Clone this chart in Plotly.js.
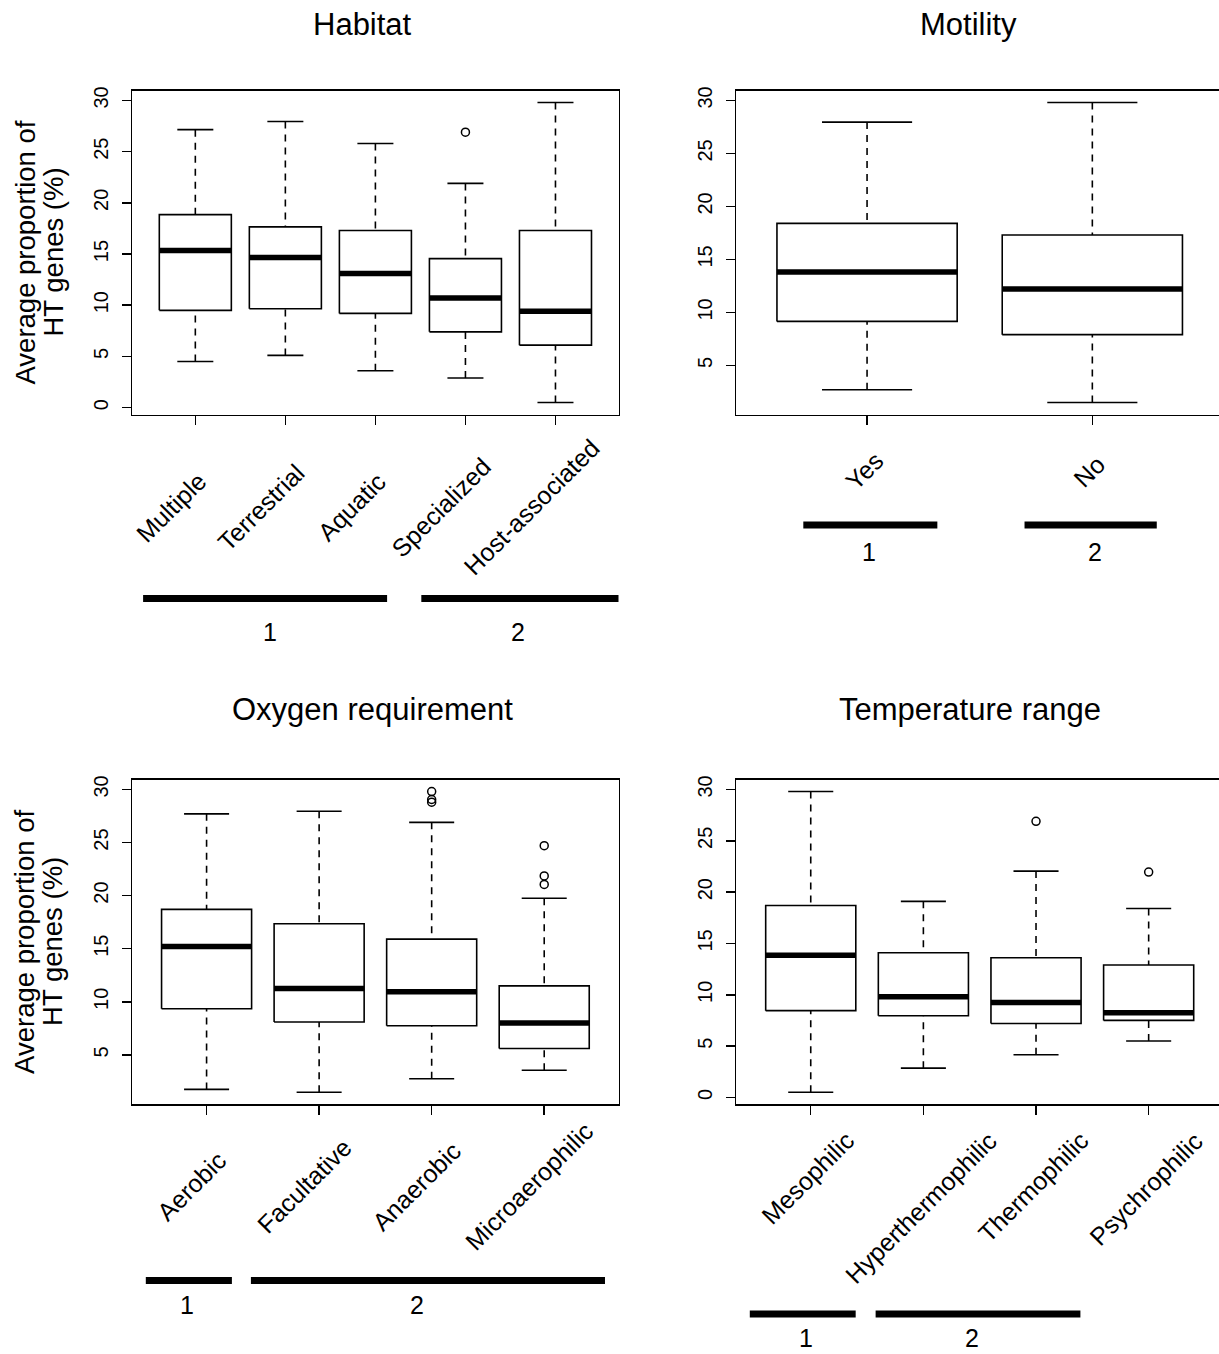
<!DOCTYPE html>
<html>
<head>
<meta charset="utf-8">
<script src="https://cdn.plot.ly/plotly-3.0.1.min.js"></script>
<style>
html,body{margin:0;padding:0;background:#fff;overflow:hidden;}
#chart{width:1226px;height:1354px;}
</style>
</head>
<body>
<div id="chart"></div>
<script>
// ---------------- DATA ----------------
const habitatCats     = ['Multiple', 'Terrestrial', 'Aquatic', 'Specialized', 'Host-associated'];
const habitatLower    = [4.5, 5.1, 3.6, 2.9, 0.5];
const habitatQ1       = [9.5, 9.65, 9.2, 7.4, 6.1];
const habitatMedian   = [15.35, 14.65, 13.1, 10.7, 9.4];
const habitatQ3       = [18.85, 17.65, 17.3, 14.55, 17.3];
const habitatUpper    = [27.15, 27.95, 25.8, 21.9, 29.8];
const habitatOutliers = [[], [], [], [26.9], []];
const habitatGroupRanges = [[0.42, 3.13], [3.51, 5.71]];
const habitatGroupLabelX = [1.83, 4.58];
const habitatGroupLabels = ['1', '2'];

const motilityCats     = ['Yes', 'No'];
const motilityLower    = [2.7, 1.5];
const motilityQ1       = [9.15, 7.9];
const motilityMedian   = [13.8, 12.2];
const motilityQ3       = [18.4, 17.3];
const motilityUpper    = [27.95, 29.8];
const motilityOutliers = [[], []];
const motilityGroupRanges = [[0.717, 1.312], [1.699, 2.286]];
const motilityGroupLabelX = [1.01, 2.01];
const motilityGroupLabels = ['1', '2'];

const oxygenCats     = ['Aerobic', 'Facultative', 'Anaerobic', 'Microaerophilic'];
const oxygenLower    = [1.75, 1.48, 2.75, 3.55];
const oxygenQ1       = [9.35, 8.1, 7.75, 5.6];
const oxygenMedian   = [15.2, 11.25, 10.95, 8.0];
const oxygenQ3       = [18.7, 17.35, 15.9, 11.5];
const oxygenUpper    = [27.7, 27.95, 26.9, 19.75];
const oxygenOutliers = [[], [], [29.8, 29.05, 28.8], [24.7, 21.85, 21.05]];
const oxygenGroupRanges = [[0.46, 1.225], [1.394, 4.54]];
const oxygenGroupLabelX = [0.825, 2.87];
const oxygenGroupLabels = ['1', '2'];

const tempCats     = ['Mesophilic', 'Hyperthermophilic', 'Thermophilic', 'Psychrophilic'];
const tempLower    = [0.5, 2.85, 4.15, 5.5];
const tempQ1       = [8.45, 7.95, 7.2, 7.5];
const tempMedian   = [13.85, 9.8, 9.25, 8.25];
const tempQ3       = [18.7, 14.1, 13.6, 12.9];
const tempUpper    = [29.8, 19.1, 22.05, 18.4];
const tempOutliers = [[], [], [26.9], [21.95]];
const tempGroupRanges = [[0.459, 1.399], [1.576, 3.394]];
const tempGroupLabelX = [0.956, 2.435];
const tempGroupLabels = ['1', '2'];

const yAxisTitleLines = ['Average proportion of', 'HT genes (%)'];

// ---------------- LAYOUT CONFIG ----------------
const W = 1226, H = 1354;
const FONT = 'Liberation Sans, Arial, Helvetica, sans-serif';
const px2x = p => p / W;
const px2y = p => 1 - p / H;

const panels = [
  { title: 'Habitat', cats: habitatCats, lower: habitatLower, q1: habitatQ1, med: habitatMedian, q3: habitatQ3, upper: habitatUpper, out: habitatOutliers,
    gRanges: habitatGroupRanges, gLabelX: habitatGroupLabelX, gLabels: habitatGroupLabels,
    xPx: [132.3, 618.5], yPx: [90.5, 414.5], titlePos: [362, 24], yTitle: true,
    lab: { dx: -24, y: 507, yanchor: 'middle' }, barY: 598.5, gLabY: 632 },
  { title: 'Motility', cats: motilityCats, lower: motilityLower, q1: motilityQ1, med: motilityMedian, q3: motilityQ3, upper: motilityUpper, out: motilityOutliers,
    gRanges: motilityGroupRanges, gLabelX: motilityGroupLabelX, gLabels: motilityGroupLabels,
    xPx: [736.4, 1223], yPx: [90.5, 414.5], titlePos: [968, 24], yTitle: false,
    lab: { dx: -3, y: 471, yanchor: 'middle' }, barY: 525, gLabY: 552 },
  { title: 'Oxygen requirement', cats: oxygenCats, lower: oxygenLower, q1: oxygenQ1, med: oxygenMedian, q3: oxygenQ3, upper: oxygenUpper, out: oxygenOutliers,
    gRanges: oxygenGroupRanges, gLabelX: oxygenGroupLabelX, gLabels: oxygenGroupLabels,
    xPx: [132.3, 618.5], yPx: [779.5, 1104.3], titlePos: [372, 709], yTitle: true,
    lab: { dx: -15, y: 1186, yanchor: 'middle' }, barY: 1280.5, gLabY: 1305 },
  { title: 'Temperature range', cats: tempCats, lower: tempLower, q1: tempQ1, med: tempMedian, q3: tempQ3, upper: tempUpper, out: tempOutliers,
    gRanges: tempGroupRanges, gLabelX: tempGroupLabelX, gLabels: tempGroupLabels,
    xPx: [736.4, 1223], yPx: [779.5, 1104.3], titlePos: [970, 709], yTitle: false,
    lab: { dx: -3, y: 1124, yanchor: 'top' }, barY: 1314, gLabY: 1338 }
];

const BOXW = 0.8, CAPW = 0.4;
const traces = [];
const layout = {
  width: W, height: H,
  margin: { l: 0, r: 0, t: 0, b: 0, pad: 0 },
  paper_bgcolor: '#ffffff', plot_bgcolor: '#ffffff',
  showlegend: false,
  font: { family: FONT, color: '#000000' },
  annotations: [], shapes: []
};

panels.forEach((p, k) => {
  const s = k === 0 ? '' : String(k + 1);
  const xa = 'x' + s, ya = 'y' + s;
  const n = p.cats.length;
  const pos = p.cats.map((c, j) => j + 1);

  const wx = [], wy = [], cx = [], cy = [], bx = [], by = [], mx = [], my = [], ox = [], oy = [];
  pos.forEach((x, j) => {
    wx.push(x, x, null, x, x, null);
    wy.push(p.upper[j], p.q3[j], null, p.lower[j], p.q1[j], null);
    cx.push(x - CAPW / 2, x + CAPW / 2, null, x - CAPW / 2, x + CAPW / 2, null);
    cy.push(p.lower[j], p.lower[j], null, p.upper[j], p.upper[j], null);
    bx.push(x - BOXW / 2, x + BOXW / 2, x + BOXW / 2, x - BOXW / 2, x - BOXW / 2, null);
    by.push(p.q1[j], p.q1[j], p.q3[j], p.q3[j], p.q1[j], null);
    mx.push(x - BOXW / 2, x + BOXW / 2, null);
    my.push(p.med[j], p.med[j], null);
    p.out[j].forEach(v => { ox.push(x); oy.push(v); });
  });
  const common = { xaxis: xa, yaxis: ya, hoverinfo: 'skip', showlegend: false, cliponaxis: false };
  traces.push(Object.assign({ type: 'scatter', mode: 'lines', x: wx, y: wy, line: { color: '#000', width: 1.6, dash: '7px,6px' } }, common));
  traces.push(Object.assign({ type: 'scatter', mode: 'lines', x: cx, y: cy, line: { color: '#000', width: 1.6 } }, common));
  traces.push(Object.assign({ type: 'scatter', mode: 'lines', x: bx, y: by, line: { color: '#000', width: 1.6 } }, common));
  traces.push(Object.assign({ type: 'scatter', mode: 'lines', x: mx, y: my, line: { color: '#000', width: 5.5 } }, common));
  if (ox.length) traces.push(Object.assign({ type: 'scatter', mode: 'markers', x: ox, y: oy,
    marker: { symbol: 'circle-open', size: 8, color: '#000', line: { width: 1.5, color: '#000' } } }, common));

  const allY = p.lower.concat(p.upper, [].concat(...p.out));
  const ymin = Math.min(...allY), ymax = Math.max(...allY);
  const padY = 0.04 * (ymax - ymin);
  const padX = 0.04 * n;

  layout['xaxis' + s] = {
    domain: [px2x(p.xPx[0]), px2x(p.xPx[1])], anchor: ya,
    range: [0.5 - padX, n + 0.5 + padX], tickmode: 'array', tickvals: pos,
    showticklabels: false, ticks: 'outside', ticklen: 9, tickwidth: 1.5, tickcolor: '#000',
    showline: true, mirror: true, linecolor: '#000', linewidth: 1.8,
    showgrid: false, zeroline: false, fixedrange: true
  };
  layout['yaxis' + s] = {
    domain: [px2y(p.yPx[1]), px2y(p.yPx[0])], anchor: xa,
    range: [ymin - padY, ymax + padY], tickmode: 'linear', tick0: 0, dtick: 5,
    ticks: 'outside', ticklen: 9, tickwidth: 1.5, tickcolor: '#000',
    tickangle: -90, tickfont: { family: FONT, size: 20, color: '#000' }, ticklabelstandoff: 6,
    showline: true, mirror: true, linecolor: '#000', linewidth: 1.8,
    showgrid: false, zeroline: false, fixedrange: true
  };

  layout.annotations.push({ xref: 'paper', yref: 'paper', x: px2x(p.titlePos[0]), y: px2y(p.titlePos[1]),
    text: p.title, showarrow: false, xanchor: 'center', yanchor: 'middle', font: { family: FONT, size: 31, color: '#000' } });

  if (p.yTitle) {
    const yc = (p.yPx[0] + p.yPx[1]) / 2;
    yAxisTitleLines.forEach((t, i) => {
      layout.annotations.push({ xref: 'paper', yref: 'paper', x: px2x(25 + i * 28), y: px2y(yc),
        text: t, textangle: -90, showarrow: false, xanchor: 'center', yanchor: 'middle',
        font: { family: FONT, size: 27.5, color: '#000' } });
    });
  }

  p.cats.forEach((c, j) => {
    layout.annotations.push({ xref: xa, yref: 'paper', x: pos[j], xshift: p.lab.dx, y: px2y(p.lab.y),
      text: c, textangle: -45, showarrow: false, xanchor: 'center', yanchor: p.lab.yanchor,
      font: { family: FONT, size: 25, color: '#000' } });
  });

  p.gRanges.forEach((r, g) => {
    layout.shapes.push({ type: 'line', xref: xa, yref: 'paper', x0: r[0], x1: r[1],
      y0: px2y(p.barY), y1: px2y(p.barY), line: { color: '#000', width: 7 } });
    layout.annotations.push({ xref: xa, yref: 'paper', x: p.gLabelX[g], y: px2y(p.gLabY),
      text: p.gLabels[g], showarrow: false, xanchor: 'center', yanchor: 'middle',
      font: { family: FONT, size: 25, color: '#000' } });
  });
});

Plotly.newPlot('chart', traces, layout, { staticPlot: true, displayModeBar: false });
</script>
</body>
</html>
